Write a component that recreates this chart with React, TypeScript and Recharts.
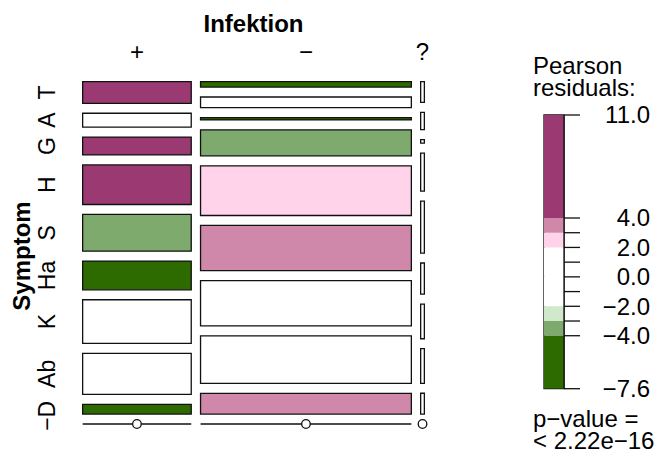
import React from "react";
import { ComposedChart, XAxis, YAxis, ReferenceArea, ReferenceLine, Scatter, Bar } from "recharts";

const FONT = '"Liberation Sans", Arial, Helvetica, sans-serif';

// Contingency table: Symptom (rows) by Infektion (columns)
const symptomLevels = ["T", "A", "G", "H", "S", "Ha", "K", "Ab", "D", "−"];
const infektionLevels = ["+", "−", "?"];

const countsPlus = [184, 118, 152, 337, 312, 244, 371, 350, 82, 0];
const countsMinus = [89, 177, 37, 429, 821, 745, 750, 784, 342, 0];
const countsUnknown = [6, 5, 1, 11, 15, 9, 10, 10, 6, 0];

// Pearson residuals that drive the tile shading
const residPlus = [9.3, 1.7, 11.0, 4.7, -3.7, -5.0, -0.4, -1.7, -5.2, 0];
const residMinus = [-6.9, -1.4, -7.6, -3.5, 2.6, 3.6, 0.4, 1.3, 3.6, 0];
const residUnknown = [1.6, 0.9, -0.8, 0.7, 0.5, -0.7, -0.8, -0.8, 0.5, 0];

// Shading intervals (high to low) and their colours
const shadeCuts = [4, 3, 2, -2, -3, -4];
const shadeColors = ["#9B3A72", "#D088AA", "#FFD4EA", "#FFFFFF", "#CFE9CA", "#7EAA6E", "#2D6A00"];

// Legend scale ticks between the extremes; only some carry a label
const legendInnerTicks = [4, 3, 2, 1, 0, -1, -2, -3, -4];
const legendLabelled = [4, 2, 0, -2, -4];

const legendTitle = ["Pearson", "residuals:"];
const pValueLines = ["p−value =", "< 2.22e−16"];

// Spacing between tiles, as a fraction of the unit square
const GAP_X = 0.0288;
const GAP_Y = 0.0394;

const columns = [countsPlus, countsMinus, countsUnknown];
const residuals = [residPlus, residMinus, residUnknown];

const sum = (a: number[]) => a.reduce((s, v) => s + v, 0);
const colTotals = columns.map(sum);
const grandTotal = sum(colTotals);

type Tile = { j: number; i: number; x1: number; x2: number; y1: number; y2: number; n: number; r: number };

const tiles: Tile[] = [];
{
  let x = 0;
  columns.forEach((col, j) => {
    const w = colTotals[j] / grandTotal;
    let y = 0;
    col.forEach((n, i) => {
      const h = n / colTotals[j];
      tiles.push({ j, i, x1: x, x2: x + w, y1: y, y2: y + h, n, r: residuals[j][i] });
      y += h + GAP_Y;
    });
    x += w + GAP_X;
  });
}

const X_MAX = 1 + (columns.length - 1) * GAP_X;
const Y_MAX = 1 + (symptomLevels.length - 1) * GAP_Y;

const colCenters = columns.map((_, j) => {
  const t = tiles.find((tt) => tt.j === j)!;
  return (t.x1 + t.x2) / 2;
});
const rowCenters = tiles.filter((t) => t.j === 0).map((t) => (t.y1 + t.y2) / 2);

const zeroCells = tiles.filter((t) => t.n === 0).map((t) => ({ x: (t.x1 + t.x2) / 2, y: t.y1 }));

// intervals: [4,∞) [3,4) [2,3) (-2,2) (-3,-2] (-4,-3] (-∞,-4]
const shadeOf = (r: number) => {
  if (r >= 4) return shadeColors[0];
  if (r >= 3) return shadeColors[1];
  if (r >= 2) return shadeColors[2];
  if (r > -2) return shadeColors[3];
  if (r > -3) return shadeColors[4];
  if (r > -4) return shadeColors[5];
  return shadeColors[6];
};

const allResid = residuals.flat();
const resMax = Math.max(...allResid);
const resMin = Math.min(...allResid);
const legendTicks = [resMax, ...legendInnerTicks, resMin];

// Legend bar: segments stacked up from 0 (positive) and down from 0 (negative)
const posEdges = [0, ...shadeCuts.filter((c) => c > 0).reverse(), resMax]; // 0,2,3,4,max
const negEdges = [0, ...shadeCuts.filter((c) => c < 0), resMin]; // 0,-2,-3,-4,min
const posColors = [3, 2, 1, 0].map((k) => shadeColors[k]);
const negColors = [3, 4, 5, 6].map((k) => shadeColors[k]);
const legendRow: Record<string, number | string> = { key: "scale" };
posEdges.slice(1).forEach((e, k) => (legendRow[`p${k}`] = e - posEdges[k]));
negEdges.slice(1).forEach((e, k) => (legendRow[`n${k}`] = e - negEdges[k]));
const legendData = [legendRow];

const fmt = (v: number) => (v < 0 ? "−" : "") + Math.abs(v).toFixed(1);

const InfektionTick = (props: any) => {
  const { x, payload } = props;
  const idx = colCenters.findIndex((c) => Math.abs(c - payload.value) < 1e-9);
  return (
    <text x={x} y={60} textAnchor="middle" fontSize={24} fill="#000" fontFamily={FONT}>
      {infektionLevels[idx]}
    </text>
  );
};

const SymptomTick = (props: any) => {
  const { y, payload } = props;
  const idx = rowCenters.findIndex((c) => Math.abs(c - payload.value) < 1e-9);
  const bx = 55;
  return (
    <text
      x={bx}
      y={y}
      transform={`rotate(-90, ${bx}, ${y})`}
      textAnchor="middle"
      fontSize={23}
      fill="#000"
      fontFamily={FONT}
    >
      {symptomLevels[idx]}
    </text>
  );
};

const LegendTick = (props: any) => {
  const { y, payload } = props;
  const v = payload.value;
  const show = v === resMax || v === resMin || legendLabelled.includes(v);
  if (!show) return <g />;
  return (
    <text x={650} y={y} dy={8.4} textAnchor="end" fontSize={24} fill="#000" fontFamily={FONT}>
      {fmt(v)}
    </text>
  );
};

const ZeroDot = (props: any) => (
  <circle cx={props.cx} cy={props.cy} r={4.3} fill="#fff" stroke="#111" strokeWidth={1.3} />
);

// Axis band sizes; the chart margins are reduced by the same amounts
const Y_AXIS_W = 40;
const X_AXIS_H = 30;
const LEG_AXIS_W = 90;

export default function App() {
  return (
    <div style={{ position: "fixed", left: 0, top: 0, width: 660, height: 456, background: "#fff" }}>
      <div style={{ position: "absolute", left: 0, top: 0 }}>
        <ComposedChart
          width={660}
          height={456}
          margin={{ top: 81.65 - X_AXIS_H, right: 235.65, bottom: 32, left: 82.65 - Y_AXIS_W }}
        >
          <XAxis
            type="number"
            dataKey="x"
            orientation="top"
            domain={[0, X_MAX]}
            ticks={colCenters}
            interval={0}
            tick={<InfektionTick />}
            axisLine={false}
            tickLine={false}
            height={X_AXIS_H}
          />
          <YAxis
            type="number"
            dataKey="y"
            reversed
            domain={[0, Y_MAX]}
            ticks={rowCenters}
            interval={0}
            tick={<SymptomTick />}
            axisLine={false}
            tickLine={false}
            width={Y_AXIS_W}
          />
          {tiles
            .filter((t) => t.n > 0)
            .map((t) => (
              <ReferenceArea
                key={`tile-${t.j}-${t.i}`}
                x1={t.x1}
                x2={t.x2}
                y1={t.y1}
                y2={t.y2}
                fill={shadeOf(t.r)}
                fillOpacity={1}
                stroke="#111"
                strokeWidth={1.3}
                ifOverflow="visible"
              />
            ))}
          {tiles
            .filter((t) => t.n === 0)
            .map((t) => (
              <ReferenceLine
                key={`zero-${t.j}-${t.i}`}
                segment={[
                  { x: t.x1, y: t.y1 },
                  { x: t.x2, y: t.y1 },
                ]}
                stroke="#111"
                strokeWidth={1.3}
                ifOverflow="visible"
              />
            ))}
          <Scatter data={zeroCells} dataKey="y" shape={<ZeroDot />} isAnimationActive={false} />
        </ComposedChart>
      </div>

      <div style={{ position: "absolute", left: 0, top: 0 }}>
        <ComposedChart
          width={660}
          height={456}
          data={legendData}
          stackOffset="sign"
          barCategoryGap={0}
          barGap={0}
          margin={{ top: 115, right: 96 - LEG_AXIS_W, bottom: 67.3, left: 544 }}
        >
          <XAxis type="category" dataKey="key" hide />
          <YAxis
            type="number"
            orientation="right"
            domain={[resMin, resMax]}
            allowDataOverflow
            ticks={legendTicks}
            interval={0}
            tick={<LegendTick />}
            tickSize={16}
            axisLine={{ stroke: "#111", strokeWidth: 1.3 }}
            tickLine={{ stroke: "#111", strokeWidth: 1.3 }}
            width={LEG_AXIS_W}
          />
          {posColors.map((c, k) => (
            <Bar key={`p${k}`} dataKey={`p${k}`} stackId="scale" fill={c} isAnimationActive={false} />
          ))}
          {negColors.map((c, k) => (
            <Bar key={`n${k}`} dataKey={`n${k}`} stackId="scale" fill={c} isAnimationActive={false} />
          ))}
          <ReferenceArea
            y1={resMin}
            y2={resMax}
            fill="none"
            stroke="#111"
            strokeWidth={1.3}
            ifOverflow="visible"
          />
        </ComposedChart>
      </div>

      <svg
        width={660}
        height={456}
        style={{ position: "absolute", left: 0, top: 0, pointerEvents: "none" }}
        fontFamily={FONT}
      >
        <text x={253.5} y={31.5} textAnchor="middle" fontSize={24} fontWeight="bold" fill="#000">
          Infektion
        </text>
        <text
          x={30}
          y={256}
          transform="rotate(-90, 30, 256)"
          textAnchor="middle"
          fontSize={24}
          fontWeight="bold"
          fill="#000"
        >
          Symptom
        </text>
        <text x={533} y={74} fontSize={24} fill="#000">
          {legendTitle.map((s, k) => (
            <tspan key={s} x={533} dy={k === 0 ? 0 : 22}>
              {s}
            </tspan>
          ))}
        </text>
        <text x={533} y={427} fontSize={24} fill="#000">
          {pValueLines.map((s, k) => (
            <tspan key={s} x={533} dy={k === 0 ? 0 : 22}>
              {s}
            </tspan>
          ))}
        </text>
      </svg>
    </div>
  );
}
